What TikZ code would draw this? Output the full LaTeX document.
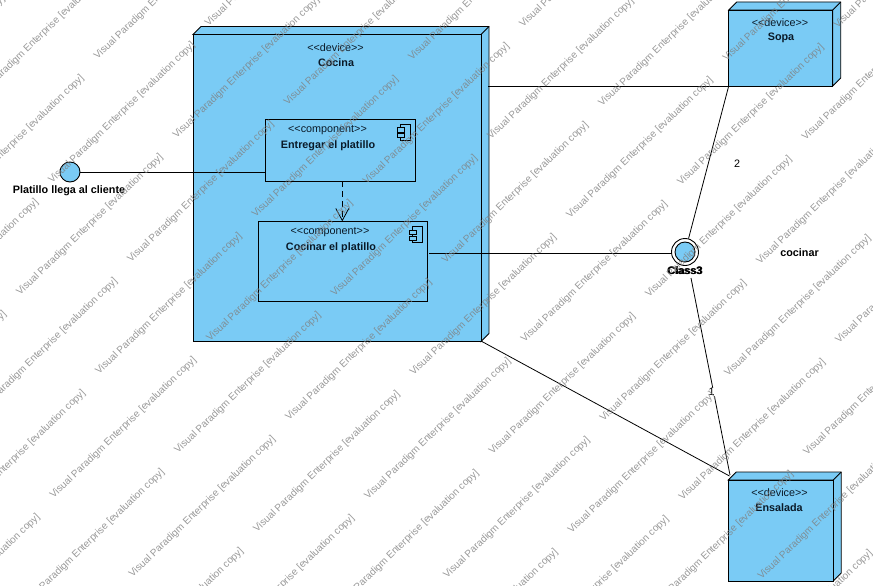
\documentclass[tikz,border=0pt]{standalone}
\usepackage{fontspec}
\setmainfont{Liberation Sans}
\usetikzlibrary{arrows.meta}
\definecolor{nodeblue}{HTML}{7ACBF5}
\definecolor{inkdark}{HTML}{0A1A28}
\tikzset{
  devicebox/.style={draw=black,line width=.9pt,fill=nodeblue,inner sep=0pt,outer sep=0pt},
  compbox/.style={draw=black,line width=.9pt,fill=nodeblue,inner sep=0pt,outer sep=0pt},
  iconpart/.style={draw=black,line width=.8pt,fill=nodeblue},
  wire/.style={draw=black,line width=.8pt},
  stereo/.style={font=\fontsize{10.8}{12}\selectfont,text=inkdark,inner sep=0pt},
  title/.style={font=\fontsize{10.8}{12}\selectfont\bfseries,text=inkdark,inner sep=0pt},
  lbl/.style={font=\fontsize{10.8}{12}\selectfont\bfseries,text=black,inner sep=0pt},
  plainlbl/.style={font=\fontsize{10.8}{12}\selectfont,text=black},
  wm/.style={font=\fontsize{10}{12}\selectfont,text=black!50,opacity=.8,rotate=44,anchor=base west,inner sep=0pt},
}
\newcommand{\deviceside}[2][8]{%
  \path[devicebox] (#2.north west) -- ++(#1,-#1) -- ++(\csname devw#2\endcsname,0) -- ++(0,\csname devh#2\endcsname) -- (#2.south east) -- (#2.north east) -- cycle;
  \draw[black,line width=.9pt] (#2.north east) -- ++(#1,-#1);
}
\newcommand{\compicon}[2]{%
  \begin{scope}[shift={(#1,#2)}]
    \draw[iconpart] (3,0) rectangle (13.5,16);
    \draw[iconpart] (0,3.5) rectangle (7.5,8);
    \draw[iconpart] (0,9.5) rectangle (7.5,13.5);
  \end{scope}
}
\newcommand{\stereotype}[1]{\mbox{<}\mbox{<}#1\mbox{>}\mbox{>}}
\begin{document}
\begin{tikzpicture}[x=1pt,y=-1pt]
\useasboundingbox (0,0) rectangle (873,586);
\fill[white] (0,0) rectangle (873,586);

% devices
\def\devwcocina{288}\def\devhcocina{307}
\def\devwsopa{104}\def\devhsopa{76}
\def\devwensalada{105}\def\devhensalada{101}
\node[devicebox,minimum width=288pt,minimum height=307pt] (cocina) at (337,188) {};
\deviceside{cocina}
\node[devicebox,minimum width=104pt,minimum height=76pt] (sopa) at (780.7,48) {};
\deviceside{sopa}
\node[devicebox,minimum width=105pt,minimum height=101pt] (ensalada) at (780.7,530.5) {};
\deviceside{ensalada}
\draw[devicebox] (cocina.north west) rectangle (cocina.south east);
\draw[devicebox] (sopa.north west) rectangle (sopa.south east);
\draw[devicebox] (ensalada.north west) rectangle (ensalada.south east);

\node[stereo] (cocinaS) at (335.5,47.5) {\stereotype{device}};
\node[title] (cocinaT) at (336,62.5) {Cocina};
\node[stereo] (sopaS) at (780,22.5) {\stereotype{device}};
\node[title] (sopaT) at (781,37.5) {Sopa};
\node[stereo] (ensaladaS) at (779.5,493) {\stereotype{device}};
\node[title] (ensaladaT) at (779,508) {Ensalada};

% components
\node[compbox,minimum width=150pt,minimum height=62pt] (entregar) at (340.3,150.3) {};
\node[compbox,minimum width=169pt,minimum height=80pt] (cocinarC) at (342.8,261.3) {};
\compicon{397.3}{124.3}
\compicon{409.3}{226.5}
\node[stereo] (entregarS) at (327.5,130.5) {\stereotype{component}};
\node[title] (entregarT) at (328,145.5) {Entregar el platillo};
\node[stereo] (cocinarS) at (330,232.5) {\stereotype{component}};
\node[title] (cocinarT) at (331,247.5) {Cocinar el platillo};

% interfaces
\node[circle,draw=black,line width=.9pt,fill=nodeblue,minimum size=20pt,inner sep=0pt] (llega) at (70,172) {};
\node[lbl] (llegaL) at (69,190.5) {Platillo llega al cliente};
\node[circle,draw=black,line width=.9pt,fill=white,minimum size=27pt,inner sep=0pt] (classO) at (685,252) {};
\node[circle,draw=black,line width=.9pt,fill=nodeblue,minimum size=20pt,inner sep=0pt] (classI) at (685,252) {};
\node[lbl] (classL) at (684.6,271) {Class3};
\node[lbl] (classL2) at (685.4,271) {Class3};
\node[lbl] (cocinarL) at (799.5,253) {cocinar};

% connector anchors
\coordinate (cocinaR) at (488,86);
\coordinate (cocinaBR) at (481,341);
\coordinate (sopaBL) at (sopa.south west);
\coordinate (ensTL) at (729.5,476);
\coordinate (ensTL2) at (730,475);
\coordinate (llegaR) at (llega.east);
\coordinate (entL) at (entregar.west |- llega.east);
\coordinate (cocR) at (429,253);
\coordinate (classB) at (691,278);

% connectors
\draw[wire] (llegaR) -- (entL);
\draw[wire] (cocinaR) -- (sopaBL);
\draw[wire] (cocR) -- (classO.west |- cocR);
\draw[wire] (sopaBL) -- (classO);
\node[plainlbl,inner sep=0pt] (two) at (737,164) {2};
\draw[wire] (classB) -- node[pos=.58,xshift=-2pt,fill=white,plainlbl,inner sep=.5pt] (one) {1} (ensTL2);
\draw[wire] (cocinaBR) -- (ensTL);
\draw[wire,dashed,dash pattern=on 6pt off 4pt,-{Straight Barb[length=12pt,width=13pt,line width=.8pt]}] (entregar.south -| 342.3,0) -- (cocinarC.north -| 342.3,0);

% watermark
\foreach \i in {-6,...,8}{
  \foreach \j in {-3,...,6}{
    \pgfmathsetmacro{\xa}{20+79*\i+156.5*\j}
    \pgfmathsetmacro{\ya}{296+79*\i-157*\j}
    \pgfmathsetmacro{\xb}{52+79*\i+156.5*\j}
    \pgfmathsetmacro{\yb}{184+79*\i-157*\j}
    \node[wm] (wa\i x\j) at (\xa,\ya) {Visual Paradigm Enterprise [evaluation copy]};
    \node[wm] (wb\i x\j) at (\xb,\yb) {Visual Paradigm Enterprise [evaluation copy]};
  }
}
\end{tikzpicture}
\end{document}
